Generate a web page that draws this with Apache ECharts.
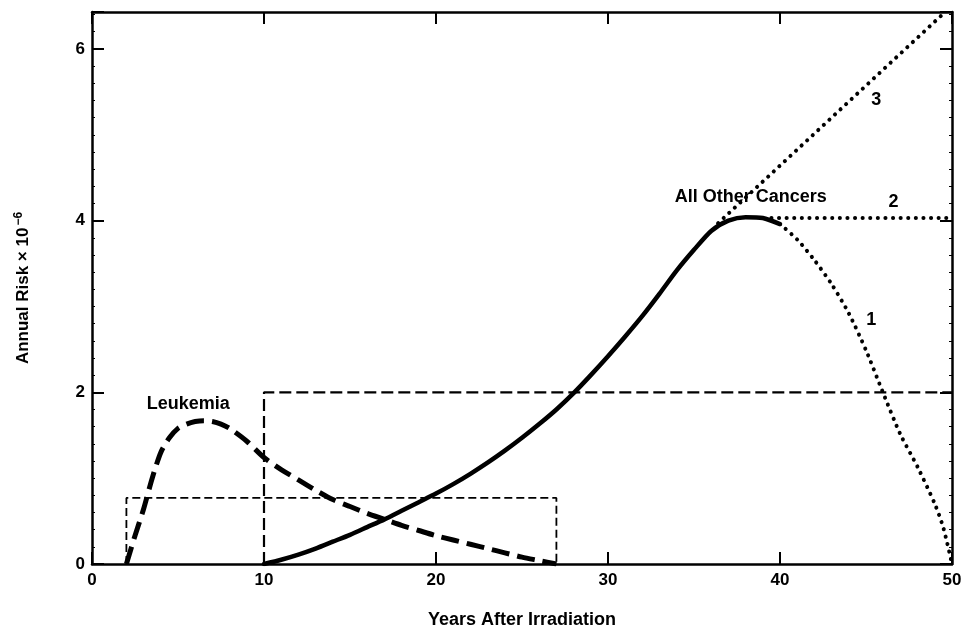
<!DOCTYPE html>
<html>
<head>
<meta charset="utf-8">
<title>Annual Risk After Irradiation</title>
<script src="https://cdn.jsdelivr.net/npm/echarts@6/dist/echarts.min.js"></script>
<style>
  html, body { margin: 0; padding: 0; background: #fff; }
  #chart { width: 968px; height: 631px; }
</style>
</head>
<body>
<div id="chart"></div>
<script>
// Axis settings
const xTicks = [0, 10, 20, 30, 40, 50];
const yTicks = [0, 2, 4, 6];
const xTitle = 'Years After Irradiation';
const yTitleMain = 'Annual Risk × 10';
const yTitleExp = '−6';

// Leukemia risk curve [years, risk]
const leukemia = [
  [2, 0], [2.5, 0.33], [3, 0.64], [3.5, 1.0], [4, 1.3], [4.5, 1.47], [5, 1.58],
  [5.5, 1.63], [6, 1.66], [6.5, 1.67], [7, 1.66], [7.5, 1.63], [8, 1.58],
  [9, 1.43], [10, 1.24], [11, 1.1], [12, 0.98], [13, 0.86], [14, 0.75],
  [15, 0.67], [16, 0.59], [17, 0.52], [18, 0.45], [19, 0.39], [20, 0.33],
  [21, 0.28], [22, 0.23], [23, 0.18], [24, 0.13], [25, 0.08], [26, 0.04], [27, 0]
];
// Leukemia step model (plateau 2–27 years)
const leukemiaBox = [[2, 0], [2, 0.77], [27, 0.77], [27, 0]];

// All other cancers: observed curve
const otherCancers = [
  [10, 0], [11, 0.05], [12, 0.11], [13, 0.18], [14, 0.26], [15, 0.34],
  [16, 0.43], [17, 0.52], [18, 0.62], [19, 0.72], [20, 0.82], [21, 0.93],
  [22, 1.05], [23, 1.18], [24, 1.32], [25, 1.47], [26, 1.63], [27, 1.8],
  [28, 1.99], [29, 2.2], [30, 2.42], [31, 2.65], [32, 2.89], [33, 3.15],
  [34, 3.42], [35, 3.66], [36, 3.88], [37, 4.0], [38, 4.04], [39, 4.03], [40, 3.96]
];
// All other cancers step model (plateau from 10 years)
const otherBox = [[10, 0], [10, 2], [50, 2]];

// Projections beyond 40 years
const projection1 = [
  [40, 3.96], [41, 3.78], [42, 3.54], [43, 3.26], [44, 2.92], [45, 2.49],
  [46, 1.99], [47, 1.51], [48, 1.13], [49, 0.7], [49.5, 0.42], [50, 0]
];
const projection2 = [[39.5, 4.03], [50, 4.03]];
const projection3 = [[36.4, 3.97], [49.6, 6.43]];

// Curve annotations [years, risk, text]
const notes = [
  [5.6, 1.86, 'Leukemia'],
  [38.3, 4.28, 'All Other Cancers'],
  [45.6, 5.41, '3'],
  [46.6, 4.22, '2'],
  [45.3, 2.84, '1']
];

const FONT = '"Liberation Sans", Arial, Helvetica, sans-serif';
const INK = '#000';

const chart = echarts.init(document.getElementById('chart'), null, { renderer: 'canvas' });

const frameLine = { show: true, onZero: false, lineStyle: { color: INK, width: 2.5 } };
const majorTick = { show: true, inside: true, length: 12, lineStyle: { color: INK, width: 2 } };

function xAxisBase(pos, withLabels) {
  return {
    type: 'value', position: pos,
    min: xTicks[0], max: xTicks[xTicks.length - 1], interval: xTicks[1] - xTicks[0],
    axisLine: frameLine, axisTick: majorTick,
    axisLabel: withLabels
      ? { show: true, color: INK, fontSize: 17, fontWeight: 'bold', fontFamily: FONT, margin: 8 }
      : { show: false },
    splitLine: { show: false }
  };
}
function yAxisBase(pos, withLabels) {
  return {
    type: 'value', position: pos,
    min: yTicks[0], max: 6.43, interval: yTicks[1] - yTicks[0],
    axisLine: frameLine,
    axisTick: majorTick,
    minorTick: { show: true, splitNumber: 10, length: 3, lineStyle: { color: INK, width: 1 } },
    axisLabel: withLabels ? {
      show: true, color: INK, fontSize: 17, fontWeight: 'bold', fontFamily: FONT, margin: 7,
      formatter: v => (yTicks.indexOf(v) >= 0 ? String(v) : '')
    } : { show: false },
    splitLine: { show: false }, minorSplitLine: { show: false }
  };
}

const xBottom = Object.assign(xAxisBase('bottom', true), {
  name: xTitle, nameLocation: 'middle', nameGap: 47,
  nameTextStyle: { color: INK, fontSize: 18, fontWeight: 'bold', fontFamily: FONT }
});
const xTop = xAxisBase('top', false);
const yLeft = Object.assign(yAxisBase('left', true), {
  name: '{m|' + yTitleMain + '}{e|' + yTitleExp + '}',
  nameLocation: 'middle', nameGap: 58,
  nameTextStyle: {
    color: INK, fontFamily: FONT,
    rich: {
      m: { fontSize: 17, fontWeight: 'bold', fontFamily: FONT, color: INK },
      e: { fontSize: 12, fontWeight: 'bold', fontFamily: FONT, color: INK, padding: [0, 0, 9, 2] }
    }
  }
});
const yRight = yAxisBase('right', false);

function lineSeries(name, data, style, smooth) {
  return {
    name, type: 'line', data,
    smooth: smooth || false,
    showSymbol: false, symbol: 'none', silent: true, clip: true,
    lineStyle: Object.assign({ color: INK }, style),
    z: 3
  };
}

chart.setOption({
  animation: false,
  backgroundColor: '#fff',
  grid: {
    left: 92, right: 16, top: 12, bottom: 67,
    containLabel: false, outerBoundsMode: 'none'
  },
  xAxis: [xBottom, xTop],
  yAxis: [yLeft, yRight],
  series: [
    lineSeries('Leukemia box', leukemiaBox, { width: 1.8, type: [8, 4] }),
    lineSeries('Other box', otherBox, { width: 2.2, type: [12, 5] }),
    lineSeries('Leukemia', leukemia, { width: 5, type: [18, 8] }, 0.25),
    lineSeries('All Other Cancers', otherCancers, { width: 4.5, cap: 'round' }, 0.25),
    lineSeries('Projection 1', projection1, { width: 4, type: [0.1, 7.5], cap: 'round' }, 0.25),
    lineSeries('Projection 2', projection2, { width: 4, type: [0.1, 7.5], cap: 'round' }),
    lineSeries('Projection 3', projection3, { width: 4, type: [0.1, 7.5], cap: 'round' }),
    {
      name: 'Notes', type: 'scatter', symbolSize: 0, silent: true,
      itemStyle: { opacity: 1, color: INK },
      data: notes.map(n => ({ value: [n[0], n[1]], name: n[2] })),
      label: {
        show: true, position: 'inside', formatter: p => p.name, opacity: 1,
        color: INK, fontSize: 18, fontWeight: 'bold', fontFamily: FONT
      },
      z: 5
    }
  ]
});
</script>
</body>
</html>
